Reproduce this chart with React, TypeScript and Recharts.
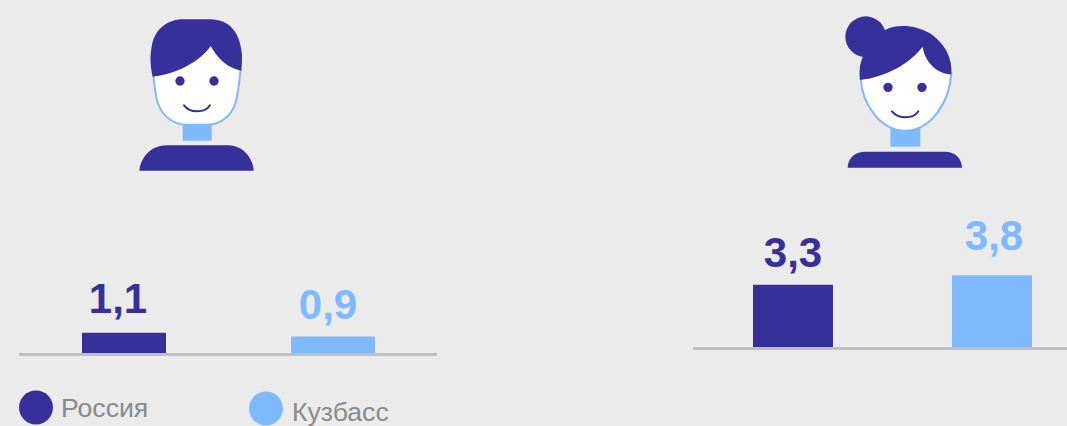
import { BarChart, Bar, XAxis, YAxis, Cell, LabelList } from "recharts";

const CATEGORIES = ["Россия", "Кузбасс"];
const MEN_VALUES = [1.1, 0.9];
const WOMEN_VALUES = [3.3, 3.8];

const DARK = "#37309a";
const LIGHT = "#7fbaff";
const AXIS = "#bfbfbf";
const GREY = "#8a8a8a";
const FILLS = [DARK, LIGHT];
const FONT = '"Liberation Sans", Arial, sans-serif';

const MAN_JAW =
  "M100 225 C104 260 106 295 116 315 C130 352 165 374 200 374 H262 C300 374 332 350 346 310 C353 285 358 250 362 205";
const WOMAN_JAW = "M92 235 C96 310 150 392 225 392 C300 392 360 310 364 215";

const buildRows = (values: number[]) =>
  CATEGORIES.map((name, i) => ({ name, value: values[i] }));

/* eslint-disable @typescript-eslint/no-explicit-any */
const valueLabel = (nudge: number[][]) => (props: any) => {
  const { x, y, width, value, index } = props;
  return (
    <text
      x={x + width / 2 + nudge[index][0]}
      y={y - nudge[index][1]}
      fill={FILLS[index]}
      fontSize={42}
      fontWeight={700}
      fontFamily={FONT}
      textAnchor="middle"
    >
      {String(value).replace(".", ",")}
    </text>
  );
};
/* eslint-enable @typescript-eslint/no-explicit-any */

interface PanelProps {
  values: number[];
  left: number;
  top: number;
  width: number;
  plotHeight: number;
  yMax: number;
  barSize: number;
  nudge: number[][];
}

function Panel({ values, left, top, width, plotHeight, yMax, barSize, nudge }: PanelProps) {
  return (
    <div style={{ position: "absolute", left, top }}>
      <BarChart
        width={width}
        height={plotHeight + 30}
        data={buildRows(values)}
        margin={{ top: 24, right: 0, bottom: 0, left: 0 }}
        barCategoryGap={0}
        barSize={barSize}
      >
        <XAxis
          dataKey="name"
          height={6}
          tick={false}
          tickLine={false}
          axisLine={{ stroke: AXIS, strokeWidth: 3, transform: "translate(0, 1.5)" }}
        />
        <YAxis hide domain={[0, yMax]} />
        <Bar dataKey="value" isAnimationActive={false}>
          {values.map((_, i) => (
            <Cell key={i} fill={FILLS[i]} />
          ))}
          <LabelList dataKey="value" content={valueLabel(nudge)} />
        </Bar>
      </BarChart>
    </div>
  );
}

function ManIcon() {
  return (
    <svg viewBox="0 0 450 540" width={150} height={180} style={{ position: "absolute", left: 120, top: 0 }}>
      <rect x={188} y={368} width={87} height={54} fill={LIGHT} />
      {/* white face runs up under the hair, the outline only follows the jaw */}
      <path d={`${MAN_JAW} L272 130 Z`} fill="#fff" />
      <path d={MAN_JAW} fill="none" stroke={LIGHT} strokeWidth={6} />
      <path d="M58 512 C62 470 95 436 140 436 H325 C365 436 398 470 401 512 Z" fill={DARK} />
      <path
        d="M98 230 C90 195 90 165 95 140 C103 90 140 58 190 58 H270 C330 58 362 100 366 165 C366 185 365 200 364 212 C320 205 290 170 272 138 C240 185 170 222 98 230 Z"
        fill={DARK}
      />
      <circle cx={180} cy={243} r={14} fill={DARK} />
      <circle cx={282} cy={243} r={14} fill={DARK} />
      <path d="M192 316 C210 340 255 340 270 316" fill="none" stroke={DARK} strokeWidth={6} strokeLinecap="round" />
    </svg>
  );
}

function WomanIcon() {
  return (
    <svg viewBox="0 0 450 540" width={150} height={180} style={{ position: "absolute", left: 830, top: 0 }}>
      <rect x={181} y={375} width={90} height={65} fill={LIGHT} />
      <path d={`${WOMAN_JAW} L278 130 Z`} fill="#fff" />
      <path d={WOMAN_JAW} fill="none" stroke={LIGHT} strokeWidth={6} />
      <path d="M53 503 C53 475 75 455 105 455 H345 C375 455 395 475 396 503 Z" fill={DARK} />
      <circle cx={107} cy={110} r={61} fill={DARK} />
      <path
        d="M90 240 C85 190 95 150 165 90 C200 70 260 75 300 100 C345 130 368 175 364 223 C325 222 285 190 278 140 C240 190 170 230 90 240 Z"
        fill={DARK}
      />
      <circle cx={174} cy={262} r={14} fill={DARK} />
      <circle cx={276} cy={262} r={14} fill={DARK} />
      <path d="M186 334 C205 358 250 358 265 334" fill="none" stroke={DARK} strokeWidth={6} strokeLinecap="round" />
    </svg>
  );
}

function LegendRow() {
  const spots = [
    { cx: 36, cy: 407.5, tx: 61, ty: 417 },
    { cx: 266, cy: 408.5, tx: 292, ty: 421 },
  ];
  return (
    <svg width={1067} height={426} style={{ position: "absolute", left: 0, top: 0, pointerEvents: "none" }}>
      {CATEGORIES.map((name, i) => (
        <g key={name}>
          <circle cx={spots[i].cx} cy={spots[i].cy} r={17} fill={FILLS[i]} />
          <text x={spots[i].tx} y={spots[i].ty} fontSize={26.6} fontFamily={FONT} fill={GREY}>
            {name}
          </text>
        </g>
      ))}
    </svg>
  );
}

export default function App() {
  return (
    <div
      style={{
        position: "fixed",
        left: 0,
        top: 0,
        width: 1067,
        height: 426,
        overflow: "hidden",
        background: "#ebebeb",
      }}
    >
      <ManIcon />
      <WomanIcon />
      <Panel
        values={MEN_VALUES}
        left={19}
        top={219}
        width={418}
        plotHeight={110}
        yMax={6}
        barSize={84}
        nudge={[[-6, 20], [-5, 18]]}
      />
      <Panel
        values={WOMEN_VALUES}
        left={693}
        top={191}
        width={398}
        plotHeight={132}
        yMax={7}
        barSize={80}
        nudge={[[0, 18], [2, 25]]}
      />
      <LegendRow />
    </div>
  );
}
